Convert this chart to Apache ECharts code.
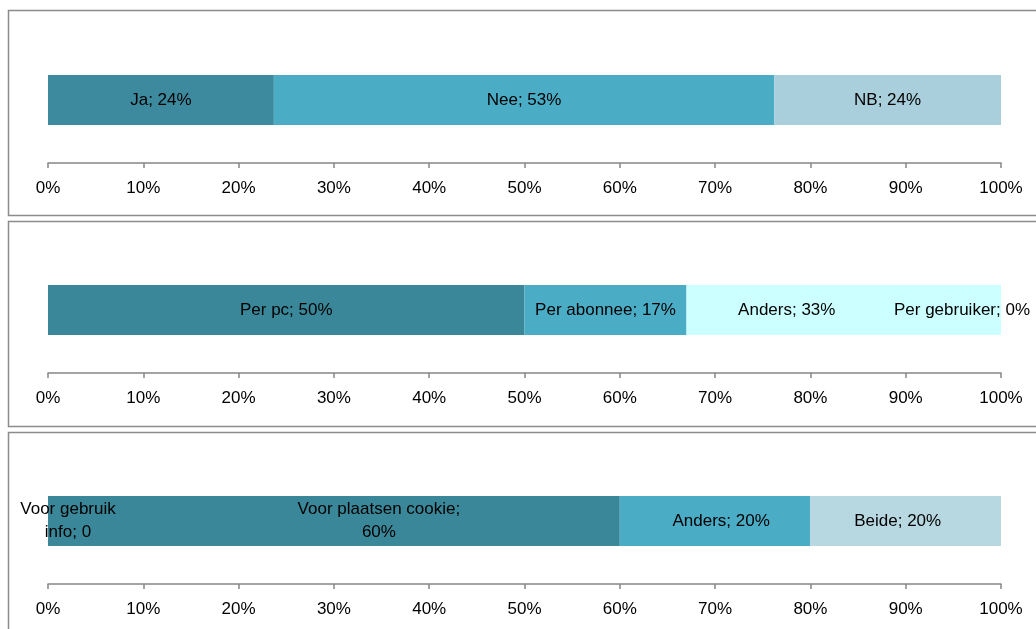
<!DOCTYPE html>
<html>
<head>
<meta charset="utf-8">
<script src="https://cdn.jsdelivr.net/npm/echarts@6/dist/echarts.min.js"></script>
<style>
  html, body { margin: 0; padding: 0; background: #fff; }
  #chart { width: 1036px; height: 629px; }
</style>
</head>
<body>
<div id="chart"></div>
<script>
// data
const axisTicks = [0, 10, 20, 30, 40, 50, 60, 70, 80, 90, 100];

const panel1Names = ['Ja', 'Nee', 'NB'];
const panel1Values = [23.7, 52.5, 23.8];

const panel2Names = ['Per pc', 'Per abonnee', 'Anders', 'Per gebruiker'];
const panel2Values = [50, 17, 33, 0];

const panel3Names = ['Voor gebruik info', 'Voor plaatsen cookie', 'Anders', 'Beide'];
const panel3Values = [0, 60, 20, 20];

// label texts as they appear in the picture (Excel wraps some of them)
const panel3Labels = ['Voor gebruik\ninfo; 0', 'Voor plaatsen cookie;\n60%', 'Anders; 20%', 'Beide; 20%'];

// styling
const colors1 = ['#3d8a9e', '#4bacc6', '#a9cfdc'];
const colors2 = ['#3a8799', '#4bacc6', '#ccffff', '#ccffff'];
const colors3 = ['#3a8799', '#3a8799', '#4bacc6', '#b7d7e1'];
const labelOffsets2 = [[0, 0], [0, 0], [-57, 0], [-39, 0]];
const labelOffsets3 = [[20, 0], [45, 0], [6, 0], [-8, 0]];
const font = 'Liberation Sans';
const fontSize = 17;
const axisColor = '#868686';

const gridTops = [37, 247, 458];
const gridHeight = 126;

function makeSeries(names, values, colors, idx, offsets, texts) {
  return names.map((n, i) => ({
    name: n,
    type: 'bar',
    stack: 'p' + idx,
    xAxisIndex: idx,
    yAxisIndex: idx,
    barWidth: 50,
    itemStyle: { color: colors[i] },
    label: {
      show: true,
      position: 'inside',
      color: '#000',
      fontFamily: font,
      fontSize: fontSize,
      lineHeight: 23,
      offset: offsets ? offsets[i] : [0, 0],
      formatter: texts ? texts[i] : n + '; ' + Math.round(values[i]) + '%'
    },
    emphasis: { disabled: true },
    data: [values[i]]
  }));
}

const chart = echarts.init(document.getElementById('chart'));
const grids = gridTops.map(t => ({ left: 48, width: 953, top: t, height: gridHeight }));
const xAxes = gridTops.map((t, i) => ({
  type: 'value',
  gridIndex: i,
  min: axisTicks[0],
  max: axisTicks[axisTicks.length - 1],
  interval: axisTicks[1] - axisTicks[0],
  axisLine: { show: true, lineStyle: { color: axisColor, width: 1.5 } },
  axisTick: { show: true, length: 5, lineStyle: { color: axisColor, width: 1.5 } },
  splitLine: { show: false },
  axisLabel: { color: '#000', fontFamily: font, fontSize: fontSize, margin: 17, formatter: '{value}%' }
}));
const yAxes = gridTops.map((t, i) => ({
  type: 'category',
  gridIndex: i,
  data: [''],
  show: false
}));

chart.setOption({
  animation: false,
  graphic: [
    { type: 'rect', shape: { x: 8.5, y: 10.5, width: 1040, height: 205 }, style: { fill: null, stroke: '#8c8c8c', lineWidth: 1.5 } },
    { type: 'rect', shape: { x: 8.5, y: 221.5, width: 1040, height: 205 }, style: { fill: null, stroke: '#8c8c8c', lineWidth: 1.5 } },
    { type: 'rect', shape: { x: 8.5, y: 432.5, width: 1040, height: 220 }, style: { fill: null, stroke: '#8c8c8c', lineWidth: 1.5 } }
  ],
  grid: grids,
  xAxis: xAxes,
  yAxis: yAxes,
  series: [].concat(
    makeSeries(panel1Names, panel1Values, colors1, 0),
    makeSeries(panel2Names, panel2Values, colors2, 1, labelOffsets2),
    makeSeries(panel3Names, panel3Values, colors3, 2, labelOffsets3, panel3Labels)
  )
});
</script>
</body>
</html>
